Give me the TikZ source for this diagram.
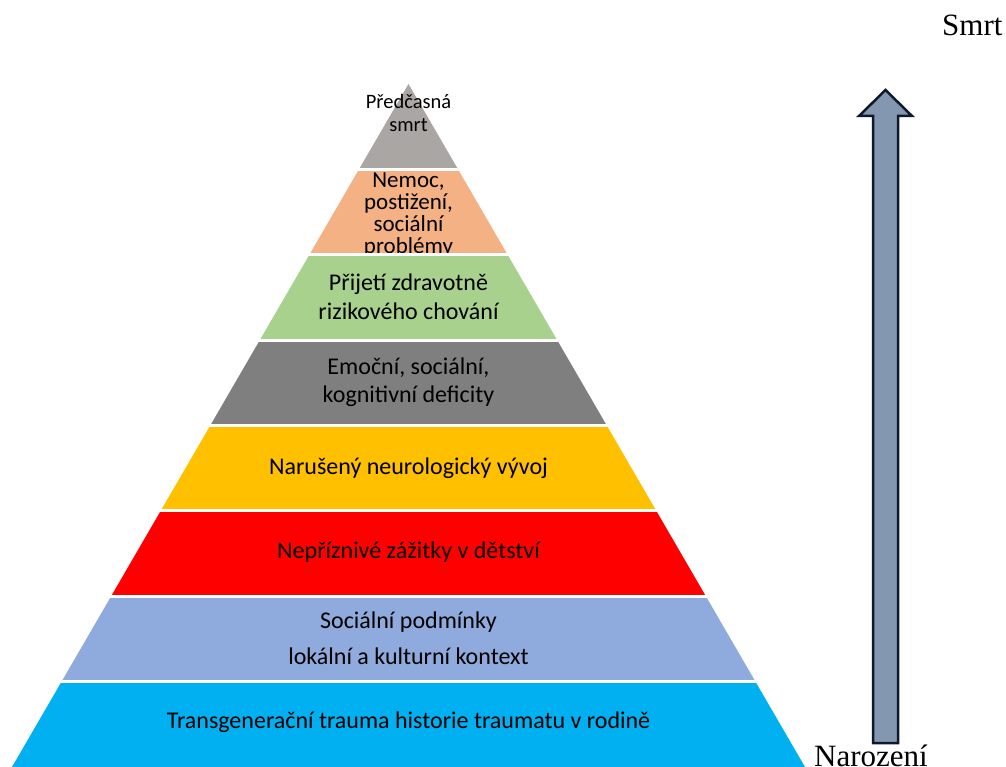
\documentclass[tikz,border=0pt]{standalone}
\usepackage{fontspec}
\setmainfont{Liberation Serif}
\newfontfamily\calib{Carlito}
\definecolor{tierA}{HTML}{A9A6A4}
\definecolor{tierB}{HTML}{F4B183}
\definecolor{tierC}{HTML}{A9D18E}
\definecolor{tierD}{HTML}{7F7F7F}
\definecolor{tierE}{HTML}{FFC000}
\definecolor{tierF}{HTML}{FF0000}
\definecolor{tierG}{HTML}{8FAADC}
\definecolor{tierH}{HTML}{00B0F0}
\definecolor{arrowfill}{HTML}{8497B0}
\definecolor{arrowline}{HTML}{0E1A2C}
\begin{document}
\begin{tikzpicture}[x=1pt,y=-1pt,
  tiertext/.style={align=center,inner sep=0pt,text=black},
  tierbig/.style={tiertext,font=\calib\fontsize{24}{28.5}\selectfont},
  tiermid/.style={tiertext,font=\calib\fontsize{23}{22.3}\selectfont},
  tiertop/.style={tiertext,font=\calib\fontsize{20.5}{23}\selectfont},
  endlabel/.style={inner sep=0pt,font=\fontsize{31}{36}\selectfont}]
\useasboundingbox (0,0) rectangle (1006,767);

% pyramid tiers, cut from one triangle
\begin{scope}
  \clip (408.5,84) -- (805,767) -- (12,767) -- cycle;
  \fill[tierA] (0,84)    rectangle (1006,169.4);
  \fill[tierB] (0,169.4) rectangle (1006,254.75);
  \fill[tierC] (0,254.75) rectangle (1006,340.1);
  \fill[tierD] (0,340.1) rectangle (1006,425.5);
  \fill[tierE] (0,425.5) rectangle (1006,510.9);
  \fill[tierF] (0,510.9) rectangle (1006,596.25);
  \fill[tierG] (0,596.25) rectangle (1006,681.6);
  \fill[tierH] (0,681.6) rectangle (1006,767);
\end{scope}

% tier labels
\node[tiertop] (t1) at (408.5,112.5) {Předčasná\\smrt};
\begin{scope}
  \clip (358.9,169.4) -- (458.1,169.4) -- (507.6,254.75) -- (309.4,254.75) -- cycle;
  \node[tiermid] (t2) at (408.5,215) {Nemoc,\\postižení,\\sociální\\problémy};
\end{scope}
\node[tierbig] (t3) at (408.5,297) {Přijetí zdravotně\\rizikového chování};
\node[tierbig] (t4) at (408.5,382) {Emoční, sociální,\\kognitivní deficity};
\node[tierbig] (t5) at (408.5,468) {Narušený neurologický vývoj};
\node[tierbig] (t6) at (408.5,552) {Nepříznivé zážitky v dětství};
\node[tierbig,font=\calib\fontsize{24}{36}\selectfont] (t7) at (408.5,638) {Sociální podmínky\\lokální a kulturní kontext};
\node[tierbig] (t8) at (408.5,722) {Transgenerační trauma historie traumatu v rodině};

% separating white bands
\foreach \yy in {169.4,254.75,340.1,425.5,510.9,596.25,681.6}
  \draw[white,line width=3pt] (0,\yy) -- (830,\yy);

% time arrow
\filldraw[fill=arrowfill,draw=arrowline,line width=2.5pt,miter limit=10]
  (873,743) -- (873,116) -- (859,116) -- (885.5,90) -- (912,116)
  -- (898,116) -- (898,743) -- cycle;

\node[endlabel,anchor=base west] (smrt) at (942,36) {Smrt};
\node[endlabel,anchor=base west] (naroz) at (814,766) {Narození};
\end{tikzpicture}
\end{document}
